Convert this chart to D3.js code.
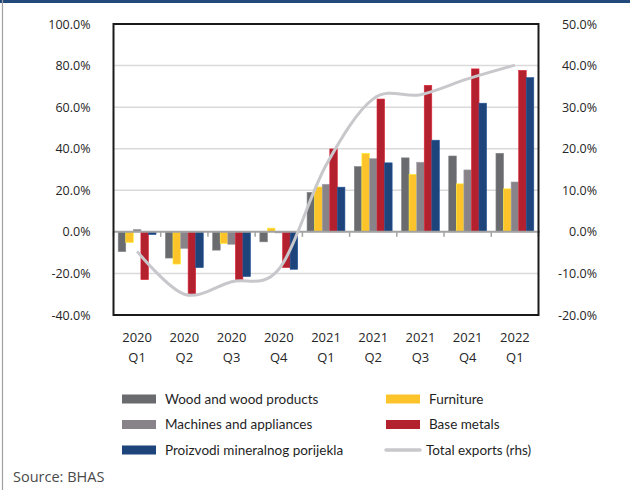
<!DOCTYPE html>
<html>
<head>
<meta charset="utf-8">
<script src="https://cdn.jsdelivr.net/npm/d3@7"></script>
<style>
  html, body { margin: 0; padding: 0; background: #fff; }
  svg { display: block; }
  .tick text { fill: #262626; }
</style>
</head>
<body>
<svg id="chart" width="630" height="490"></svg>
<script>
// Quarters on the x axis (two-line labels)
const quarters = ["2020 Q1", "2020 Q2", "2020 Q3", "2020 Q4", "2021 Q1", "2021 Q2", "2021 Q3", "2021 Q4", "2022 Q1"];

// Annual growth by product group (left axis, %)
const woodProducts   = [-9.5, -12.6, -8.8, -4.8, 19.0, 31.4, 35.6, 36.5, 37.8];
const furniture      = [-5.1, -15.5, -5.6, 1.8, 21.6, 37.8, 27.7, 23.1, 20.7];
const machines       = [1.2, -8.0, -6.0, -0.5, 22.9, 35.2, 33.5, 29.8, 24.0];
const baseMetals     = [-23.0, -30.5, -23.4, -17.2, 39.9, 63.9, 70.5, 78.4, 77.7];
const mineralProducts = [-1.3, -17.2, -21.5, -18.0, 21.5, 33.2, 44.1, 61.9, 74.2];

// Total exports (right axis, %)
const totalExports = [-4.7, -15.0, -12.0, -9.0, 16.0, 32.0, 33.0, 36.8, 40.1];

// Axis ticks
const leftTicks  = [-40, -20, 0, 20, 40, 60, 80, 100];
const rightTicks = [-20, -10, 0, 10, 20, 30, 40, 50];

const seriesNames  = ["Wood and wood products", "Furniture", "Machines and appliances", "Base metals", "Proizvodi mineralnog porijekla"];
const seriesValues = [woodProducts, furniture, machines, baseMetals, mineralProducts];
const seriesColors = ["#6a6b6e", "#fcc42a", "#878389", "#b3202e", "#1e457b"];
const lineName = "Total exports (rhs)";
const lineColor = "#c8c8cc";

const svg = d3.select("#chart");

// page frame: blue band on top, thin grey rule on the left
svg.append("rect").attr("x", 0).attr("y", 0).attr("width", 630).attr("height", 3).attr("fill", "#22497c");
svg.append("line").attr("x1", 2.5).attr("x2", 2.5).attr("y1", 0).attr("y2", 490)
  .attr("stroke", "#a0a0a0").attr("stroke-width", 1.2);

const plot = { left: 113.5, right: 538.5, top: 24, bottom: 315 };

const x = d3.scaleBand().domain(quarters).range([plot.left, plot.right]).padding(0);
const xInner = d3.scaleBand().domain(d3.range(seriesNames.length))
  .range([0, x.bandwidth()]).paddingInner(0).paddingOuter(0.62);
const y = d3.scaleLinear().domain([-40, 100]).range([plot.bottom, plot.top]);
const yR = d3.scaleLinear().domain([-20, 50]).range([plot.bottom, plot.top]);

// horizontal gridlines
svg.append("g").selectAll("line")
  .data(leftTicks.filter(v => v !== 0 && v !== 100 && v !== -40))
  .join("line")
  .attr("x1", plot.left).attr("x2", plot.right)
  .attr("y1", d => y(d)).attr("y2", d => y(d))
  .attr("stroke", "#dadada").attr("stroke-width", 1.5);

// grouped bars
const groups = svg.append("g").selectAll("g")
  .data(quarters)
  .join("g")
  .attr("transform", d => `translate(${x(d)},0)`);

groups.selectAll("rect")
  .data((q, qi) => seriesValues.map((vals, si) => ({ si, v: vals[qi] })))
  .join("rect")
  .attr("x", d => xInner(d.si))
  .attr("width", xInner.bandwidth())
  .attr("y", d => y(Math.max(0, d.v)))
  .attr("height", d => Math.abs(y(d.v) - y(0)))
  .attr("fill", d => seriesColors[d.si])
  .attr("stroke", d => d3.color(seriesColors[d.si]).brighter(0.6))
  .attr("stroke-width", 0.6);

// zero line with category ticks
svg.append("line")
  .attr("x1", plot.left).attr("x2", plot.right + 1.5)
  .attr("y1", y(0)).attr("y2", y(0))
  .attr("stroke", "#a3a3a3").attr("stroke-width", 2);
svg.append("g").selectAll("line")
  .data(d3.range(quarters.length + 1))
  .join("line")
  .attr("x1", i => plot.left + i * x.step()).attr("x2", i => plot.left + i * x.step())
  .attr("y1", y(0)).attr("y2", y(0) + 5)
  .attr("stroke", "#a3a3a3").attr("stroke-width", 1.5);

// total exports, smoothed line on the right axis
const line = d3.line()
  .x((d, i) => x(quarters[i]) + x.bandwidth() / 2)
  .y(d => yR(d))
  .curve(d3.curveCardinal.tension(0));
svg.append("path")
  .datum(totalExports)
  .attr("d", line)
  .attr("fill", "none")
  .attr("stroke", lineColor)
  .attr("stroke-width", 3);

// plot frame
svg.append("rect")
  .attr("x", plot.left).attr("y", plot.top)
  .attr("width", plot.right - plot.left).attr("height", plot.bottom - plot.top)
  .attr("fill", "none").attr("stroke", "#1a1a1a").attr("stroke-width", 2);

// left axis
const axL = svg.append("g")
  .attr("transform", `translate(${plot.left},0)`)
  .call(d3.axisLeft(y).tickValues(leftTicks).tickFormat(d => d.toFixed(1) + "%").tickSize(0).tickPadding(23));
axL.select(".domain").remove();
axL.selectAll("text").attr("font-family", "'Open Sans', sans-serif").attr("font-size", 12.5);

// right axis, labels right-aligned
const axR = svg.append("g")
  .attr("transform", `translate(${plot.right},0)`)
  .call(d3.axisRight(yR).tickValues(rightTicks).tickFormat(d => d.toFixed(1) + "%").tickSize(0));
axR.select(".domain").remove();
axR.selectAll("text")
  .attr("x", 58.5).attr("text-anchor", "end")
  .attr("font-family", "'Open Sans', sans-serif").attr("font-size", 12.5);

// category axis, two-line labels
const axB = svg.append("g")
  .attr("transform", `translate(0,${plot.bottom})`)
  .call(d3.axisBottom(x).tickSize(0).tickFormat(""));
axB.select(".domain").remove();
axB.selectAll(".tick text").remove();
axB.selectAll(".tick").append("text")
  .attr("text-anchor", "middle")
  .attr("font-family", "'Open Sans', sans-serif").attr("font-size", 13)
  .attr("fill", "#262626")
  .selectAll("tspan")
  .data(d => d.split(" "))
  .join("tspan")
  .attr("x", 0)
  .attr("y", (d, i) => 27 + i * 19.5)
  .text(d => d);

// legend
const legendItems = [
  { name: seriesNames[0], color: seriesColors[0], kind: "bar" },
  { name: seriesNames[1], color: seriesColors[1], kind: "bar" },
  { name: seriesNames[2], color: seriesColors[2], kind: "bar" },
  { name: seriesNames[3], color: seriesColors[3], kind: "bar" },
  { name: seriesNames[4], color: seriesColors[4], kind: "bar" },
  { name: lineName, color: lineColor, kind: "line" }
];
const legend = svg.append("g").selectAll("g")
  .data(legendItems)
  .join("g")
  .attr("transform", (d, i) => `translate(${i % 2 === 0 ? 122 : 386},${399 + Math.floor(i / 2) * 25.5})`);
legend.filter(d => d.kind === "bar").append("rect")
  .attr("x", 0).attr("y", -4.5).attr("width", 34).attr("height", 9)
  .attr("fill", d => d.color);
legend.filter(d => d.kind === "line").append("line")
  .attr("x1", 0).attr("x2", 34).attr("y1", 0).attr("y2", 0)
  .attr("stroke", d => d.color).attr("stroke-width", 3.5).attr("stroke-linecap", "round");
legend.append("text")
  .attr("x", d => d.kind === "line" ? 40 : 43).attr("y", 4.5)
  .attr("font-family", "Lato, sans-serif").attr("font-size", 13.5)
  .attr("fill", "#1f1f1f")
  .text(d => d.name);

// source note
svg.append("text")
  .attr("x", 13).attr("y", 481.5)
  .attr("font-family", "'Open Sans', sans-serif").attr("font-size", 14.5)
  .attr("fill", "#4a4a4a")
  .text("Source: BHAS");
</script>
</body>
</html>
